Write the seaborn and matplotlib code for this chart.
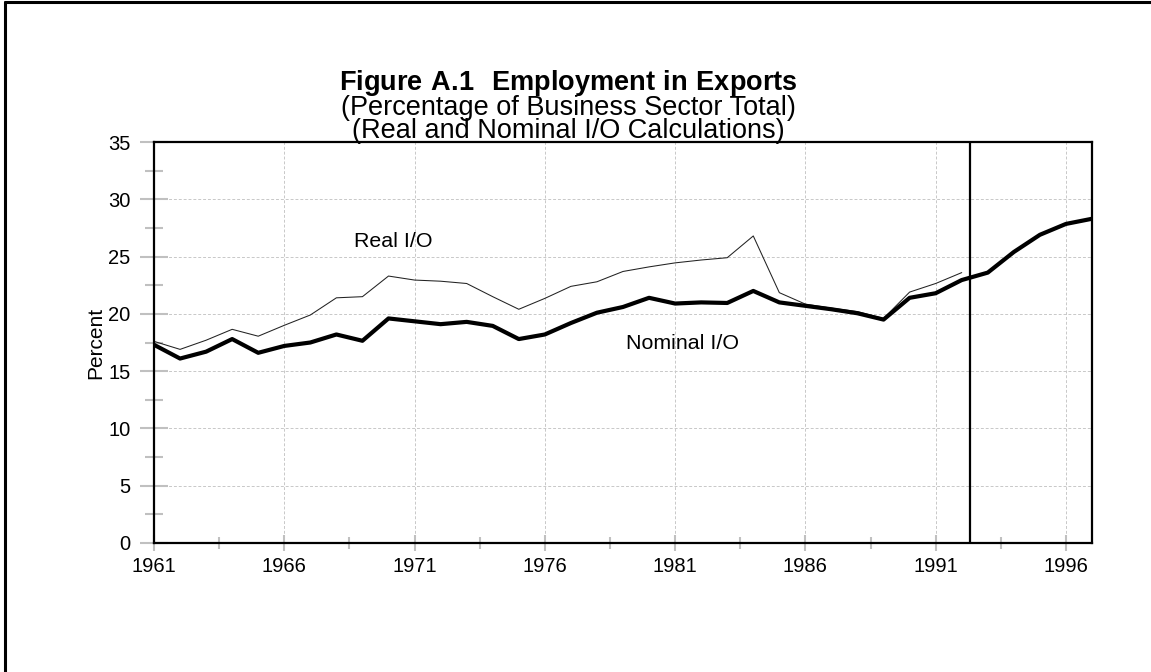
import numpy as np
import pandas as pd
import matplotlib
matplotlib.use("Agg")
import matplotlib.pyplot as plt
import seaborn as sns
from matplotlib.ticker import MultipleLocator, FixedLocator

years_nominal = list(range(1961, 1998))
nominal = [17.3, 16.1, 16.7, 17.8, 16.6, 17.2, 17.5, 18.2, 17.65, 19.6,
           19.35, 19.1, 19.3, 18.95, 17.8, 18.2, 19.2, 20.1, 20.6, 21.4,
           20.9, 21.0, 20.95, 22.0, 21.0, 20.7, 20.4, 20.05, 19.5, 21.4,
           21.8, 22.95, 23.6, 25.4, 26.9, 27.85, 28.3]
years_real = list(range(1961, 1993))
real = [17.6, 16.9, 17.7, 18.65, 18.05, 19.0, 19.9, 21.4, 21.5, 23.3,
        22.95, 22.85, 22.65, 21.5, 20.4, 21.35, 22.4, 22.8, 23.7, 24.1,
        24.45, 24.7, 24.9, 26.8, 21.85, 20.85, 20.5, 20.2, 19.6, 21.9,
        22.65, 23.6]
xtick_years = [1961, 1966, 1971, 1976, 1981, 1986, 1991, 1996]
yticks = [0, 5, 10, 15, 20, 25, 30, 35]
divider_year = 1992.3

sns.set_style("white", {"text.color": "black", "axes.labelcolor": "black",
                        "xtick.color": "black", "ytick.color": "black",
                        "xtick.bottom": True, "ytick.left": True})
plt.rcParams['font.family'] = ['Liberation Sans', 'DejaVu Sans']
plt.rcParams['mathtext.fontset'] = 'custom'
plt.rcParams['mathtext.rm'] = 'Liberation Sans'
plt.rcParams['mathtext.bf'] = 'Liberation Sans:bold'

fig = plt.figure(figsize=(11.51, 6.72), dpi=100)
ax = fig.add_axes([154/1151, 1-543/672, (1092-154)/1151, (543-142)/672])

df_nom = pd.DataFrame({"year": years_nominal, "value": nominal})
df_real = pd.DataFrame({"year": years_real, "value": real})

sns.lineplot(data=df_real, x="year", y="value", ax=ax, color="#222222",
             linewidth=0.75, zorder=3)
sns.lineplot(data=df_nom, x="year", y="value", ax=ax, color="black",
             linewidth=3.0, zorder=4)

ax.axvline(divider_year, color="black", linewidth=1.6, zorder=5)

ax.set_xlim(1961, 1997)
ax.set_ylim(0, 35)
ax.xaxis.set_major_locator(FixedLocator(xtick_years))
ax.xaxis.set_minor_locator(FixedLocator([y + 2.5 for y in xtick_years]))
ax.yaxis.set_major_locator(FixedLocator(yticks))
ax.yaxis.set_minor_locator(MultipleLocator(2.5))

ax.grid(True, which="major", color="#c8c8c8", linestyle=(0, (3, 2)), linewidth=0.7)
ax.set_axisbelow(True)

ax.tick_params(axis="x", which="major", bottom=True, direction="inout", length=12,
               width=1.5, color="#c0c0c0", labelcolor="black", labelsize=14.5, pad=4)
ax.tick_params(axis="x", which="minor", bottom=True, direction="inout", length=8,
               width=1.5, color="#c0c0c0")
ax.tick_params(axis="y", which="major", left=True, direction="inout", length=20,
               width=1.5, color="#c0c0c0", labelcolor="black", labelsize=14.5, pad=7)
ax.tick_params(axis="y", which="minor", left=True, direction="inout", length=13,
               width=1.5, color="#c0c0c0")
ax.set_xticklabels([str(y) for y in xtick_years])

for s in ax.spines.values():
    s.set_visible(True)
    s.set_color("black")
    s.set_linewidth(1.6)
    s.set_zorder(6)

ax.set_xlabel("")
ax.set_ylabel("Percent", fontsize=15, labelpad=2, color="black")

ax.text(1970.2, 26.3, "Real I/O", fontsize=15.4, ha="center", va="center", color="black")
ax.text(1981.3, 17.4, "Nominal I/O", fontsize=15.4, ha="center", va="center", color="black")

title_x = 568 / 1151
title_lines = [r"$\mathbf{Figure\ A.\!1\ \ Employment\ in\ Exports}$",
               "(Percentage of Business Sector Total)",
               "(Real and Nominal I/O Calculations)"]
fig.text(title_x, 1-106/672, "\n".join(title_lines), fontsize=19.5,
         ha="center", va="center", multialignment="center",
         linespacing=0.85, color="black")

# figure frame (top and left edges visible)
fig.add_artist(plt.Line2D([5/1151, 1], [1-2/672, 1-2/672], transform=fig.transFigure,
                          color="black", linewidth=2.2))
fig.add_artist(plt.Line2D([5/1151, 5/1151], [0, 1-2/672], transform=fig.transFigure,
                          color="black", linewidth=2.2))

fig.savefig("out.png", dpi=100)
